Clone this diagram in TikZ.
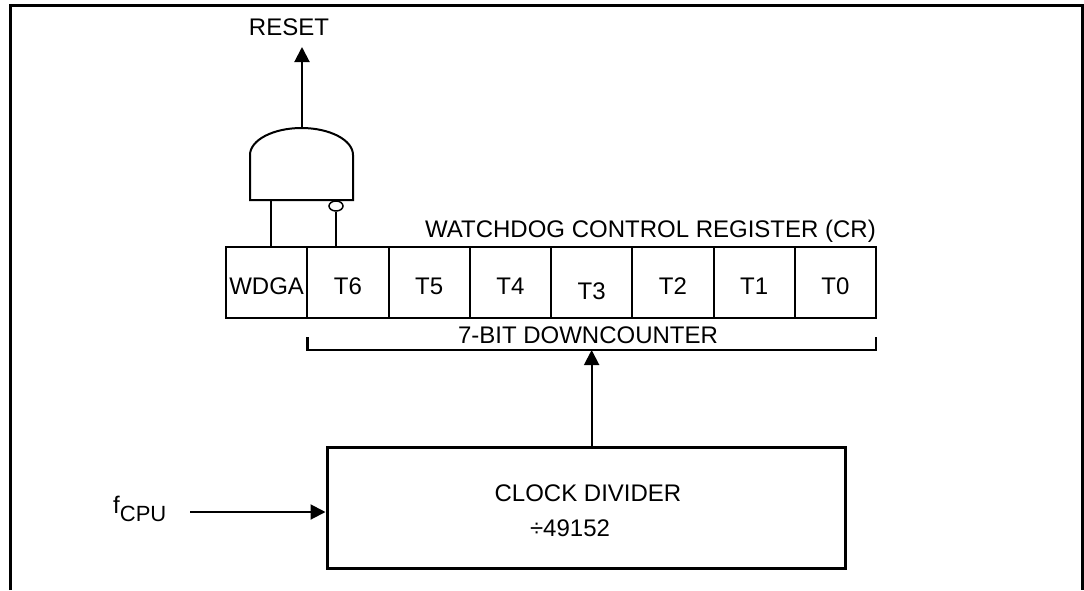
\documentclass[tikz,border=0pt]{standalone}
\usepackage{fontspec}
\setmainfont{Liberation Sans}
\usetikzlibrary{arrows.meta}
\usetikzlibrary{calc}
\usetikzlibrary{shapes.geometric}
\usetikzlibrary{positioning}

\tikzset{
  bitcell/.style={draw, line width=2pt, minimum width=81.25pt, minimum height=71pt,
    inner sep=0pt, outer sep=0pt, anchor=west, text height=23pt, text depth=0pt},
  wire/.style={line width=2pt},
  sig/.style={line width=2pt, -{Triangle[length=15pt,width=15pt]}},
}

\begin{document}
\begin{tikzpicture}[x=1pt, y=-1pt, font=\fontsize{24}{28}\selectfont]
    \useasboundingbox (0,0) rectangle (1084,590);
    % frame
    \draw [line width=3pt] (10,590) -- (10,5) -- (1082,5) -- (1082,590);

    % control register
    \node [bitcell] (wdga) at (226,282.5) {WDGA};
    \node [bitcell, right=0pt of wdga] (t6) {T6};
    \node [bitcell, right=0pt of t6] (t5) {T5};
    \node [bitcell, right=0pt of t5] (t4) {T4};
    \node [bitcell, right=0pt of t4, text height=33pt] (t3) {T3};
    \node [bitcell, right=0pt of t3] (t2) {T2};
    \node [bitcell, right=0pt of t2] (t1) {T1};
    \node [bitcell, right=0pt of t1] (t0) {T0};
    \node [anchor=base east, inner sep=0pt] (crlabel) at (t0.east |- 0,237) {WATCHDOG CONTROL REGISTER (CR)};

    % downcounter bracket
    \coordinate (cnt) at ($(t6.south west)!0.5!(t0.south east)$);
    \draw [line width=2.5pt] ([yshift=-19pt]t6.south west) -- ([yshift=-32pt]t6.south west)
        -- ([yshift=-32pt]t0.south east) -- ([yshift=-19pt]t0.south east);
    \coordinate (cntmid) at ([yshift=-32pt]cnt);
    \node [anchor=base, inner sep=0pt] (cntlabel) at (588,343) {7-BIT DOWNCOUNTER};

    % reset gate
    \draw [wire] (250,200) -- (250,155) arc [start angle=180, end angle=0, x radius=51.5pt, y radius=27pt]
        -- (353,200) -- cycle;
    \node [ellipse, draw, line width=1.5pt, minimum width=14pt, minimum height=10pt, inner sep=0pt] (bub) at (336,206) {};
    \coordinate (gin) at (271,200);
    \draw [wire] (gin) -- (gin |- wdga.north);
    \draw [wire] (bub.south) -- (bub.south |- t6.north);
    \coordinate (gout) at (302,128);
    \coordinate (rtip) at (302,47);
    \draw [sig] (gout) -- (rtip);
    \node [anchor=base, inner sep=0pt] (reset) at (289,35) {RESET};

    % clock divider
    \node [draw, line width=3pt, minimum width=518pt, minimum height=121pt] (clk) at (586,507.5) {};
    \node (clktxt) at (588,493) {CLOCK DIVIDER};
    \node (divtxt) at (570,528) {÷49152};
    \draw [sig] (clk.north -| cntmid) -- (cntmid);

    \node [anchor=base west, inner sep=0pt] (fcpu) at (113,513) {f\raisebox{-8pt}{\fontsize{22}{26}\selectfont CPU}};
    \coordinate (fin) at (190,512);
    \draw [sig] (fin) -- (fin -| clk.west);
\end{tikzpicture}
\end{document}
